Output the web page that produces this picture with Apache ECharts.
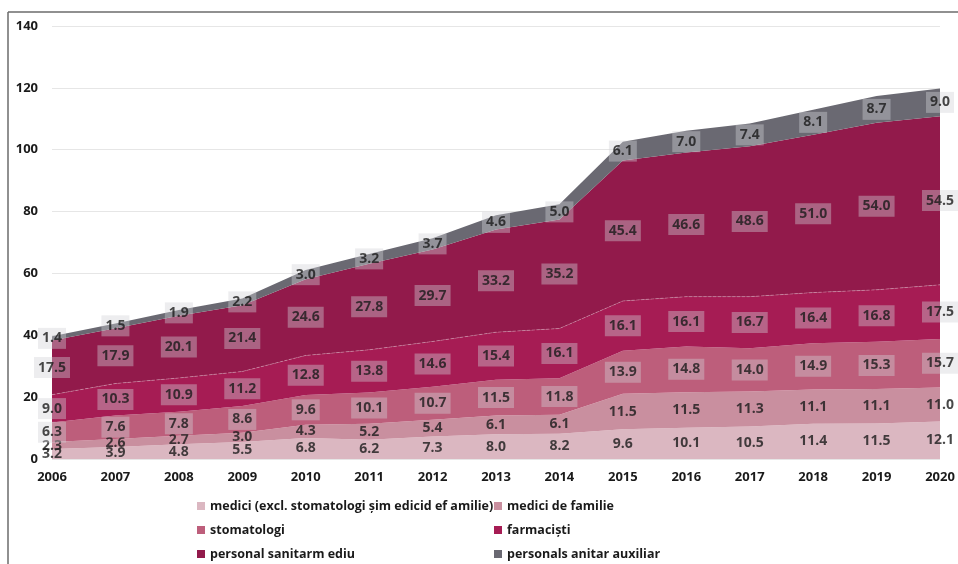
<!DOCTYPE html>
<html>
<head>
<meta charset="utf-8">
<script src="https://cdn.jsdelivr.net/npm/echarts@6/dist/echarts.min.js"></script>
<style>
    html, body { margin: 0; padding: 0; background: #fff; }
    #main { width: 958px; height: 564px; }
</style>
</head>
<body>
<div id="main"></div>
<script>
    var years = ['2006', '2007', '2008', '2009', '2010', '2011', '2012', '2013', '2014', '2015', '2016', '2017', '2018', '2019', '2020'];

    var mediciExcl = [3.2, 3.9, 4.8, 5.5, 6.8, 6.2, 7.3, 8.0, 8.2, 9.6, 10.1, 10.5, 11.4, 11.5, 12.1];
    var mediciFamilie = [2.3, 2.6, 2.7, 3.0, 4.3, 5.2, 5.4, 6.1, 6.1, 11.5, 11.5, 11.3, 11.1, 11.1, 11.0];
    var stomatologi = [6.3, 7.6, 7.8, 8.6, 9.6, 10.1, 10.7, 11.5, 11.8, 13.9, 14.8, 14.0, 14.9, 15.3, 15.7];
    var farmacisti = [9.0, 10.3, 10.9, 11.2, 12.8, 13.8, 14.6, 15.4, 16.1, 16.1, 16.1, 16.7, 16.4, 16.8, 17.5];
    var sanitarMediu = [17.5, 17.9, 20.1, 21.4, 24.6, 27.8, 29.7, 33.2, 35.2, 45.4, 46.6, 48.6, 51.0, 54.0, 54.5];
    var sanitarAuxiliar = [1.4, 1.5, 1.9, 2.2, 3.0, 3.2, 3.7, 4.6, 5.0, 6.1, 7.0, 7.4, 8.1, 8.7, 9.0];

    var yTicks = [0, 20, 40, 60, 80, 100, 120, 140];

    var names = [
        'medici (excl. stomatologi șim edicid ef amilie)',
        'medici de familie',
        'stomatologi',
        'farmaciști',
        'personal sanitarm ediu',
        'personals anitar auxiliar'
    ];
    var colors = ['#dbb7c1', '#c98f9f', '#bd5e7b', '#a61c54', '#921a4b', '#6a6972'];
    var seriesData = [mediciExcl, mediciFamilie, stomatologi, farmacisti, sanitarMediu, sanitarAuxiliar];

    var fontFam = '"Open Sans", "Noto Sans", sans-serif';

    var series = [];
    // stacked areas
    seriesData.forEach(function (d, i) {
        series.push({
            name: names[i],
            type: 'line',
            stack: 'total',
            data: d,
            symbol: 'none',
            lineStyle: i === 3 ? { width: 0.8, type: 'dashed', color: 'rgba(255,255,255,0.35)' } : { width: 0 },
            areaStyle: { color: colors[i], opacity: 1 },
            itemStyle: { color: colors[i] },
            silent: true,
            z: 2
        });
    });

    // labels in the middle of every band
    var base = years.map(function () { return 0; });
    seriesData.forEach(function (d, i) {
        var mids = d.map(function (v, j) { return base[j] + v / 2; });
        base = base.map(function (b, j) { return b + d[j]; });
        var boxed = i >= 2;
        series.push({
            name: names[i] + '_lbl',
            type: 'scatter',
            data: mids,
            symbolSize: 1,
            itemStyle: { color: 'transparent' },
            silent: true,
            z: 5,
            label: {
                show: true,
                position: 'inside',
                formatter: function (p) { return d[p.dataIndex].toFixed(1); },
                fontFamily: fontFam,
                fontWeight: 'bold',
                fontSize: 14,
                color: '#1a1a1a',
                backgroundColor: boxed ? 'rgba(210,210,214,0.5)' : 'transparent',
                padding: [4, 4, 3, 4]
            }
        });
    });

    var legendText = { fontFamily: fontFam, fontWeight: 'bold', fontSize: 12.5, color: '#1a1a1a', lineHeight: 14 };

    var chart = echarts.init(document.getElementById('main'));
    chart.setOption({
        backgroundColor: '#fff',
        animation: false,
        grid: { left: 52, right: 18, top: 26, bottom: 105 },
        xAxis: {
            type: 'category',
            data: years,
            boundaryGap: false,
            axisLine: { show: false },
            axisTick: { show: false },
            axisLabel: { fontFamily: fontFam, fontWeight: 'bold', fontSize: 13, color: '#1a1a1a', margin: 12 }
        },
        yAxis: {
            type: 'value',
            min: yTicks[0],
            max: yTicks[yTicks.length - 1],
            interval: 20,
            axisLine: { show: false },
            axisTick: { show: false },
            axisLabel: { fontFamily: fontFam, fontWeight: 'bold', fontSize: 13, color: '#1a1a1a', margin: 14 },
            splitLine: { lineStyle: { color: '#e6e6e6', width: 1 } }
        },
        legend: [
            {
                left: 197, top: 499, orient: 'vertical', padding: 0,
                itemWidth: 8, itemHeight: 8, itemGap: 10, icon: 'rect',
                data: [names[0], names[2], names[4]],
                textStyle: legendText
            },
            {
                left: 494, top: 499, orient: 'vertical', padding: 0,
                itemWidth: 8, itemHeight: 8, itemGap: 10, icon: 'rect',
                data: [names[1], names[3], names[5]],
                textStyle: legendText
            }
        ],
        graphic: [
            { type: 'line', shape: { x1: 8, y1: 12, x2: 958, y2: 12 }, style: { stroke: '#6b6b6b', lineWidth: 1.5 } },
            { type: 'line', shape: { x1: 8, y1: 12, x2: 8, y2: 564 }, style: { stroke: '#6b6b6b', lineWidth: 1.5 } }
        ],
        series: series
    });
</script>
</body>
</html>
